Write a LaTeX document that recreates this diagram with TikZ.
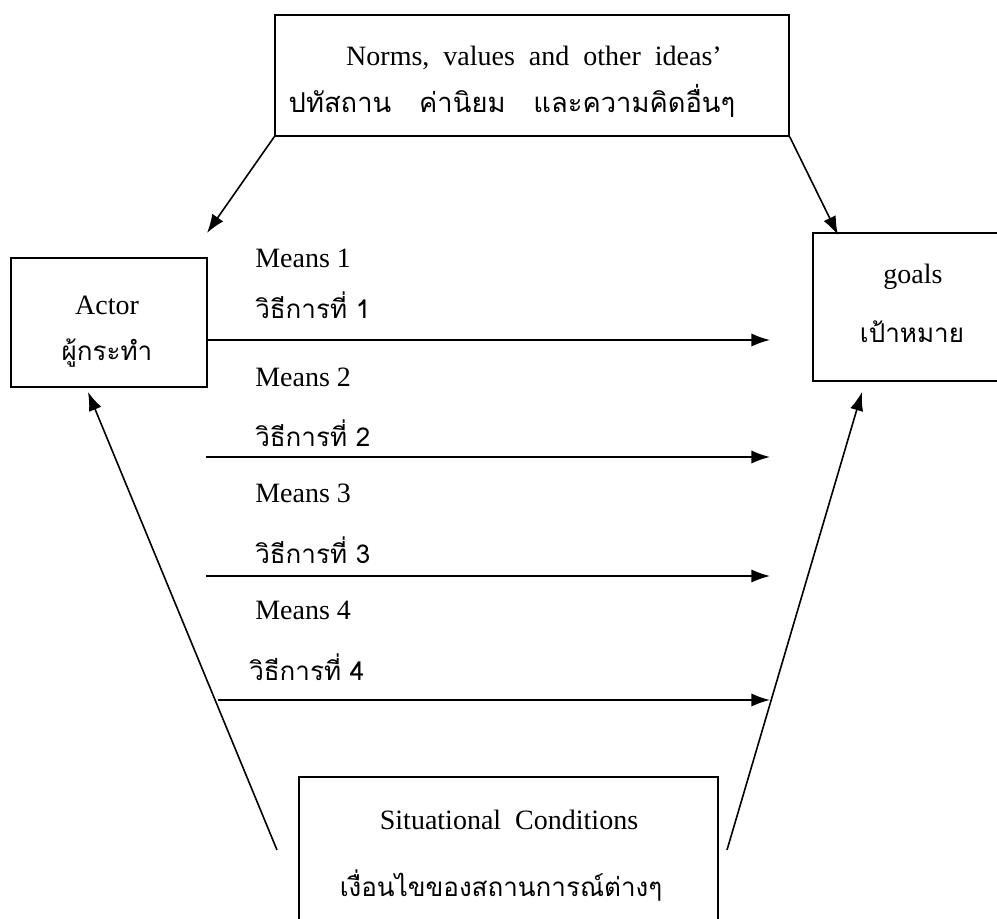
\documentclass[tikz,border=0pt]{standalone}
\usepackage{fontspec}
\setmainfont{Liberation Serif}
\newfontfamily\thaifont[Script=Thai]{Loma}
\usetikzlibrary{arrows.meta}

\tikzset{
  box/.style={draw, line width=1pt, inner sep=0pt},
  link/.style={line width=1.2pt, -{Latex[length=14pt,width=10pt]}},
  entxt/.style={font=\fontsize{21}{25}\selectfont, inner sep=0pt},
  thtxt/.style={font=\thaifont\fontsize{19.5}{24}\selectfont, inner sep=0pt},
}

\begin{document}
\begin{tikzpicture}[x=0.75pt,y=0.75pt,yscale=-1]
\useasboundingbox (0,0) rectangle (997,919);
\clip (0,0) rectangle (997,919);

%Boxes
\node [box, minimum width=385.5pt, minimum height=90.75pt] (norms) at (532,75.5) {};
\node [box, minimum width=147pt, minimum height=96.75pt] (actor) at (109,322.5) {};
\node [box, minimum width=148.5pt, minimum height=111pt] (goals) at (912,307) {};
\node [box, minimum width=314.25pt, minimum height=137.25pt] (sit) at (508.5,868.5) {};

% Text Node
\node [entxt] (normsen) at (534,58) {Norms,\ \ values\ \ and\ \ other\ \ ideas’};
\node [thtxt, font=\thaifont\fontsize{20.5}{25}\selectfont] (normsth) at (512,101) {ปทัสถาน\hspace{14pt} ค่านิยม\hspace{14pt} และความคิดอื่นๆ};
\node [entxt] (actoren) at (107,305) {Actor};
\node [thtxt] (actorth) at (107,353) {ผู้กระทำ};
\node [entxt] (goalsen) at (913,277) {goals};
\node [thtxt] (goalsth) at (912,332) {เป้าหมาย};
\node [entxt] (siten) at (509,820) {Situational\ \ Conditions};
\node [thtxt] (sitth) at (501,886) {เงื่อนไขของสถานการณ์ต่างๆ};

%Means
\foreach \i/\ym/\yt/\ya/\xs/\xt in {1/258/305/340/207/255,2/377/433/457/206/255,3/493/550/576/206/255,4/610/667/700/218/249}{
  \node [entxt, anchor=west] (means\i) at (255,\ym) {Means \i};
  \node [thtxt, anchor=west] (wi\i) at (\xt,\yt) {วิธีการที่ \i};
  \coordinate (ms\i) at (\xs,\ya);
  \coordinate (me\i) at (770,\ya);
  \draw [link] (ms\i) -- (me\i);
}

%Straight Lines
\coordinate (at) at (207,233);
\coordinate (gt) at (838,235);
\coordinate (sa) at (277,850);
\coordinate (sg) at (727,850);
\coordinate (ab) at (88,392);
\coordinate (gb) at (862,392);
\draw [link] (norms.south west) -- (at);
\draw [link] (norms.south east) -- (gt);
\draw [link] (sa) -- (ab);
\draw [link] (sg) -- (gb);

\end{tikzpicture}
\end{document}
